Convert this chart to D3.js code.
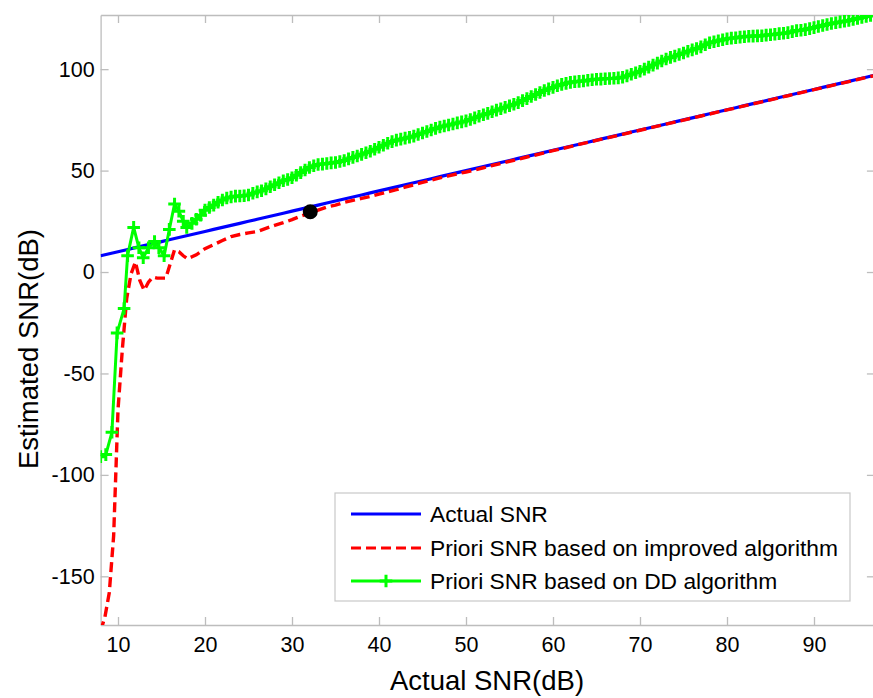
<!DOCTYPE html>
<html>
<head>
<meta charset="utf-8">
<script src="https://cdn.jsdelivr.net/npm/d3@7"></script>
<style>
  body { margin: 0; background: #fff; }
  text { font-family: "Liberation Sans", Arial, sans-serif; }
</style>
</head>
<body>
<div id="container"></div>
<script>
let w = 873;
let h = 698;

// DATA
// x axis = actual SNR in dB
let actualX = [8,9,10,11,12,13,14,15,16,17,18,19,20,21,22,23,24,25,26,27,28,29,30,31,32,33,34,35,36,37,38,39,40,41,42,43,44,45,46,47,48,49,50,51,52,53,54,55,56,57,58,59,60,61,62,63,64,65,66,67,68,69,70,71,72,73,74,75,76,77,78,79,80,81,82,83,84,85,86,87,88,89,90,91,92,93,94,95,96,97];
let actualY = [8,9,10,11,12,13,14,15,16,17,18,19,20,21,22,23,24,25,26,27,28,29,30,31,32,33,34,35,36,37,38,39,40,41,42,43,44,45,46,47,48,49,50,51,52,53,54,55,56,57,58,59,60,61,62,63,64,65,66,67,68,69,70,71,72,73,74,75,76,77,78,79,80,81,82,83,84,85,86,87,88,89,90,91,92,93,94,95,96,97];

// improved algorithm, low part [x, y]
let improvedLow = [[8,-177],[8.5,-170],[9,-158],[9.5,-130],[10,-68],[10.5,-38],[11,-13],[11.5,-1],[12,5],[12.5,-4],[13,-9],[13.5,-5],[14,-2.5],[14.5,-3],[15,-3],[15.5,-3],[16,4],[16.5,11],[17,10],[17.5,8],[18,6.5],[18.5,7.5],[19,8.5],[19.5,10],[20,11.5]];
// improved algorithm, x = 21..97
let improvedHighX = [21,22,23,24,25,26,27,28,29,30,31,32,33,34,35,36,37,38,39,40,41,42,43,44,45,46,47,48,49,50,51,52,53,54,55,56,57,58,59,60,61,62,63,64,65,66,67,68,69,70,71,72,73,74,75,76,77,78,79,80,81,82,83,84,85,86,87,88,89,90,91,92,93,94,95,96,97];
let improvedHighY = [13.5,15.5,17.5,18.5,19.3,20,21.5,23,24.3,25.8,27.5,29,30.5,32,33,34.3,35.3,36.3,37.3,38.4,39.5,40.6,41.8,43,44.2,45.3,46.4,47.4,48.4,49.3,50.3,51.4,52.5,53.5,54.6,55.6,56.7,57.7,58.8,59.8,60.8,61.8,62.9,63.9,64.9,65.9,66.9,67.9,68.9,69.9,70.9,71.9,72.9,73.9,74.9,75.9,76.9,77.9,78.9,79.9,80.9,81.9,82.9,83.9,84.9,85.9,86.9,87.9,88.9,89.9,90.9,91.9,92.9,93.9,94.9,95.9,96.9];

// DD algorithm, low part [x, y]
let ddLow = [[8,-91],[8.6,-90],[9.3,-79],[9.9,-30],[10.7,-18],[11.1,8],[11.8,22],[12.4,12],[12.9,7],[13.5,12],[14.2,15],[14.7,12],[15.3,8],[15.9,21],[16.5,33.5],[17,30],[17.5,25],[17.9,22],[18.5,24],[19,26],[19.5,28]];
// DD algorithm from x = 20, every 0.5 dB
let ddHighStart = 20;
let ddHighStep = 0.5;
let ddHighY = [
  30.5,31.8,33,34.4,35.5,36.5,37,37.4,37.5,37.6,38,38.8,39.5,40.1,41,42,43,44,45,45.6,
  46.5,47.7,49,50.3,51.5,52.4,53,53.2,53.5,53.8,54,54.5,55,55.8,56.5,57.2,58,58.8,59.5,60.5,
  61.5,62.5,63.5,64.3,65,65.5,66,66.4,67,67.8,68.5,69.3,70,70.8,71.5,72,72.5,73,73.5,74,
  74.5,75.2,76,76.8,77.5,78.2,79,79.8,80.5,81.2,82,82.7,83.5,84.5,85.5,86.5,87.5,88.5,89.5,90.3,
  91,91.8,92.5,93,93.5,93.8,94,94.2,94.5,94.8,95,95.1,95.3,95.4,95.5,95.7,96,96.7,97.5,98.2,
  99,100,101,102,103,104,105,105.8,106.5,107.2,108,108.8,109.5,110.2,111,112,113,113.5,114,114.5,
  115,115.3,115.5,115.8,116,116.2,116.3,116.4,116.5,116.8,117,117.2,117.5,117.7,118,118.5,119,119.2,119.5,120,
  120.5,121,121.5,122,122.5,122.9,123.3,123.6,124,124.5,125,125.5,126,126.5,127
];

let markX = [32.1];
let markY = [29.7];

let xTicks = [10,20,30,40,50,60,70,80,90];
let yTicks = [-150,-100,-50,0,50,100];

let legendLabels = ["Actual SNR", "Priori SNR based on improved algorithm", "Priori SNR based on DD algorithm"];

// build point lists
let actualData = actualX.map(function(x, i){ return [x, actualY[i]]; });
let improvedData = improvedLow.concat(improvedHighX.map(function(x, i){ return [x, improvedHighY[i]]; }));
let ddData = ddLow.concat(ddHighY.map(function(y, i){ return [ddHighStart + i*ddHighStep, y]; }));

// SVG
let viz = d3.select("#container").append("svg")
    .attr("width", w)
    .attr("height", h)
    .style("display", "block")
    .style("background-color", "white")
;

// SCALES
let plotLeft = 100.6, plotRight = 874.9, plotTop = 15, plotBottom = 625;
let xScale = d3.scaleLinear().domain([8, 97]).range([plotLeft, plotRight]);
let yScale = d3.scaleLinear().domain([-174, 126.7]).range([plotBottom, plotTop]);

viz.append("defs").append("clipPath").attr("id", "clip")
  .append("rect")
    .attr("x", plotLeft).attr("y", plotTop)
    .attr("width", plotRight - plotLeft).attr("height", plotBottom - plotTop)
;

// AXES (ticks point inward like matlab), plain hyphen for negatives
let plainFormat = function(d){ return String(d); };
let axisColor = "#bdbdbd";
let xAxis = d3.axisBottom(xScale).tickValues(xTicks).tickFormat(plainFormat).tickSizeInner(-8).tickSizeOuter(0).tickPadding(12);
let yAxis = d3.axisLeft(yScale).tickValues(yTicks).tickFormat(plainFormat).tickSizeInner(-8).tickSizeOuter(0).tickPadding(6);
let xAxisTop = d3.axisTop(xScale).tickValues(xTicks).tickSizeInner(-8).tickSizeOuter(0).tickFormat("");
let yAxisRight = d3.axisRight(yScale).tickValues(yTicks).tickSizeInner(-8).tickSizeOuter(0).tickFormat("");

function styleAxis(g) {
  g.select(".domain").attr("stroke", axisColor).attr("stroke-width", 1.3);
  g.selectAll(".tick line").attr("stroke", axisColor).attr("stroke-width", 1.3);
  g.selectAll(".tick text").attr("fill", "#000").style("font-size", "21.5px");
}

viz.append("g").attr("transform", "translate(0," + plotBottom + ")").call(xAxis).call(styleAxis);
viz.append("g").attr("transform", "translate(" + plotLeft + ",0)").call(yAxis).call(styleAxis);
viz.append("g").attr("transform", "translate(0," + plotTop + ")").call(xAxisTop).call(styleAxis);
viz.append("g").attr("transform", "translate(" + plotRight + ",0)").call(yAxisRight).call(styleAxis);

// LINES
let lineMaker = d3.line()
    .x(function(d){ return xScale(d[0]); })
    .y(function(d){ return yScale(d[1]); })
;

let plot = viz.append("g").attr("clip-path", "url(#clip)");

plot.append("path")
    .datum(actualData)
    .attr("d", lineMaker)
    .attr("fill", "none")
    .attr("stroke", "#0000ff")
    .attr("stroke-width", 3.2)
;

plot.append("path")
    .datum(improvedData)
    .attr("d", lineMaker)
    .attr("fill", "none")
    .attr("stroke", "#ff0000")
    .attr("stroke-width", 3.4)
    .attr("stroke-dasharray", "10,5")
;

plot.append("path")
    .datum(ddData)
    .attr("d", lineMaker)
    .attr("fill", "none")
    .attr("stroke", "#00ff00")
    .attr("stroke-width", 3)
;

let plusSize = 6.3;
function plusPath(cx, cy) {
  return "M" + (cx - plusSize) + "," + cy + "H" + (cx + plusSize) +
         "M" + cx + "," + (cy - plusSize) + "V" + (cy + plusSize);
}

plot.selectAll(".dd-marker").data(ddData).enter()
  .append("path")
    .attr("class", "dd-marker")
    .attr("d", function(d){ return plusPath(xScale(d[0]), yScale(d[1])); })
    .attr("stroke", "#00ff00")
    .attr("stroke-width", 3)
    .attr("fill", "none")
;

plot.selectAll(".mark").data(markX).enter()
  .append("circle")
    .attr("class", "mark")
    .attr("cx", function(d){ return xScale(d); })
    .attr("cy", function(d, i){ return yScale(markY[i]); })
    .attr("r", 7.5)
    .attr("fill", "#000")
;

// AXIS TITLES
viz.append("text")
    .attr("x", 487)
    .attr("y", 690)
    .attr("text-anchor", "middle")
    .style("font-size", "27.5px")
    .text("Actual SNR(dB)")
;
viz.append("text")
    .attr("transform", "translate(38,349) rotate(-90)")
    .attr("text-anchor", "middle")
    .style("font-size", "27.5px")
    .text("Estimated SNR(dB)")
;

// LEGEND
let legend = viz.append("g");
legend.append("rect")
    .attr("x", 335).attr("y", 493)
    .attr("width", 515).attr("height", 108)
    .attr("fill", "white")
    .attr("stroke", "#c8c8c8")
    .attr("stroke-width", 1.2)
;
let legendStyles = [
  {color: "#0000ff", dash: null, marker: false},
  {color: "#ff0000", dash: "10,5", marker: false},
  {color: "#00ff00", dash: null, marker: true}
];
let rowY = [514, 548, 581];
legendLabels.forEach(function(label, i){
  let s = legendStyles[i];
  legend.append("line")
      .attr("x1", 351).attr("x2", 421)
      .attr("y1", rowY[i]).attr("y2", rowY[i])
      .attr("stroke", s.color)
      .attr("stroke-width", 3.2)
      .attr("stroke-dasharray", s.dash)
  ;
  if (s.marker) {
    legend.append("path")
        .attr("d", plusPath(386, rowY[i]))
        .attr("stroke", s.color)
        .attr("stroke-width", 3)
    ;
  }
  legend.append("text")
      .attr("x", 430)
      .attr("y", rowY[i])
      .attr("dy", "0.35em")
      .style("font-size", "22.8px")
      .text(label)
  ;
});
</script>
</body>
</html>
